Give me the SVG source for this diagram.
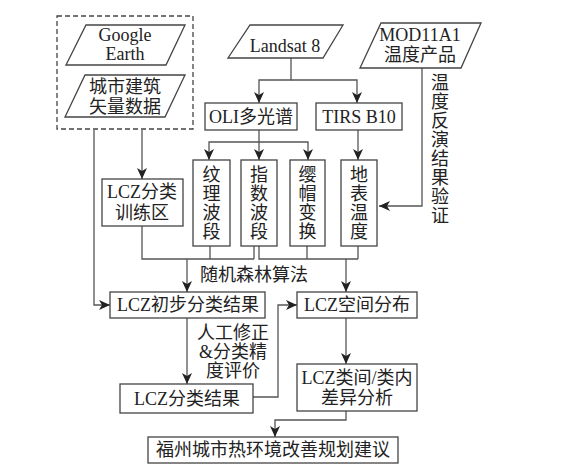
<svg xmlns="http://www.w3.org/2000/svg" width="571" height="474" viewBox="0 0 571 474">
<defs>
<marker id="ah" markerUnits="userSpaceOnUse" markerWidth="12" markerHeight="10" refX="11" refY="5" orient="auto">
<path d="M0,0 L11,5 L0,10 L3,5 Z" fill="#222"/>
</marker>
<style>
.box{fill:#fff;stroke:#444;stroke-width:1.3}
.dash{fill:none;stroke:#444;stroke-width:1.3;stroke-dasharray:5,3}
.ln{fill:none;stroke:#555;stroke-width:1.3}
.ar{fill:none;stroke:#555;stroke-width:1.3;marker-end:url(#ah)}
text{font-family:"Liberation Serif","Noto Sans CJK SC",serif;font-size:18px;fill:#222;text-anchor:middle}
</style>
</defs>
<rect width="571" height="474" fill="#fff"/>
<g id="connectors">
<path class="ar" d="M291,58 V80 H259 V103"/>
<path class="ar" d="M291,80 H357 V103"/>
<path class="ar" d="M259,130 V142 H209 V160"/>
<path class="ar" d="M259,142 H308 V160"/>
<path class="ar" d="M259,142 V160"/>
<path class="ar" d="M358,130 V160"/>
<path class="ar" d="M422,68 V206 H379"/>
<path class="ar" d="M142,130 V179"/>
<path class="ar" d="M94,130 V305 H110"/>
<path class="ln" d="M142,226 V259 H254 M210,246 V259 M254,246 V259"/>
<path class="ar" d="M187,259 V292"/>
<path class="ln" d="M259,246 V259 H358 M307,246 V259 M358,246 V259"/>
<path class="ar" d="M346,259 V292"/>
<path class="ar" d="M187,318 V384"/>
<path class="ar" d="M253,397 H278 V305 H297"/>
<path class="ar" d="M346,318 V364"/>
<path class="ar" d="M346,411 V420 H275 V437"/>
</g>
<g id="source-group">
<rect class="dash" x="57" y="16" width="136" height="113"/>
</g>
<g id="google-earth">
<polygon class="box" points="86,25 185,25 166,65 66,65"/>
<text x="125" y="41">Google</text>
<text x="125" y="60">Earth</text>
</g>
<g id="building-vector">
<polygon class="box" points="85,75 185,75 165,117 65,117"/>
<text x="125" y="93">城市建筑</text>
<text x="125" y="113">矢量数据</text>
</g>
<g id="landsat">
<polygon class="box" points="250,25 343,25 323,58 228,58"/>
<text x="285" y="52">Landsat 8</text>
</g>
<g id="mod11a1">
<polygon class="box" points="381,23 481,23 461,68 360,68"/>
<text x="420" y="41">MOD11A1</text>
<text x="420" y="61">温度产品</text>
</g>
<g id="oli">
<rect class="box" x="205" y="103" width="92" height="27"/>
<text x="251" y="123">OLI多光谱</text>
</g>
<g id="tirs">
<rect class="box" x="316" y="103" width="86" height="27"/>
<text x="359" y="123">TIRS B10</text>
</g>
<g id="texture">
<rect class="box" x="193" y="160" width="37" height="86"/>
<text x="211.5" y="181">纹</text><text x="211.5" y="200">理</text><text x="211.5" y="219">波</text><text x="211.5" y="238">段</text>
</g>
<g id="index">
<rect class="box" x="241" y="160" width="36" height="86"/>
<text x="259" y="181">指</text><text x="259" y="200">数</text><text x="259" y="219">波</text><text x="259" y="238">段</text>
</g>
<g id="tasseled">
<rect class="box" x="290" y="160" width="35" height="86"/>
<text x="307.5" y="181">缨</text><text x="307.5" y="200">帽</text><text x="307.5" y="219">变</text><text x="307.5" y="238">换</text>
</g>
<g id="lst">
<rect class="box" x="341" y="160" width="36" height="86"/>
<text x="359" y="181">地</text><text x="359" y="200">表</text><text x="359" y="219">温</text><text x="359" y="238">度</text>
</g>
<g id="validation-label">
<text x="440" y="89">温</text><text x="440" y="108">度</text><text x="440" y="127">反</text><text x="440" y="146">演</text><text x="440" y="165">结</text><text x="440" y="184">果</text><text x="440" y="203">验</text><text x="440" y="222">证</text>
</g>
<g id="training">
<rect class="box" x="102" y="179" width="81" height="47"/>
<text x="142" y="198">LCZ分类</text>
<text x="142" y="219">训练区</text>
</g>
<g id="rf-label">
<text x="254" y="281">随机森林算法</text>
</g>
<g id="prelim">
<rect class="box" x="110" y="292" width="155" height="26"/>
<text x="188" y="311">LCZ初步分类结果</text>
</g>
<g id="spatial">
<rect class="box" x="297" y="292" width="120" height="26"/>
<text x="357" y="311">LCZ空间分布</text>
</g>
<g id="correction-label">
<text x="233" y="339">人工修正</text>
<text x="233" y="358">&amp;分类精</text>
<text x="233" y="377">度评价</text>
</g>
<g id="diff">
<rect class="box" x="297" y="364" width="120" height="47"/>
<text x="357" y="384">LCZ类间/类内</text>
<text x="357" y="404">差异分析</text>
</g>
<g id="result">
<rect class="box" x="120" y="384" width="133" height="29"/>
<text x="187" y="405">LCZ分类结果</text>
</g>
<g id="final">
<rect class="box" x="148" y="437" width="250" height="26"/>
<text x="273" y="456">福州城市热环境改善规划建议</text>
</g>
</svg>
